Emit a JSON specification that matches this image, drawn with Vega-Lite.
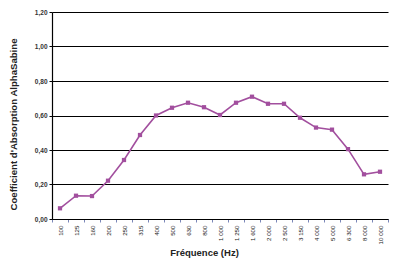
{
  "$schema": "https://vega.github.io/schema/vega-lite/v6.json",
  "autosize": {"type": "none"},
  "padding": {"left": 52, "top": 12, "right": 7, "bottom": 40},
  "width": 336,
  "height": 207,
  "background": "white",
  "config": {"view": {"stroke": null}, "font": "Liberation Sans"},
  "data": {"values": [
    {"f": "100", "a": 0.062},
    {"f": "125", "a": 0.135},
    {"f": "160", "a": 0.133},
    {"f": "200", "a": 0.222},
    {"f": "250", "a": 0.342},
    {"f": "315", "a": 0.487},
    {"f": "400", "a": 0.600},
    {"f": "500", "a": 0.645},
    {"f": "630", "a": 0.674},
    {"f": "800", "a": 0.648},
    {"f": "1 000", "a": 0.603},
    {"f": "1 250", "a": 0.674},
    {"f": "1 600", "a": 0.709},
    {"f": "2 000", "a": 0.668},
    {"f": "2 500", "a": 0.668},
    {"f": "3 150", "a": 0.587},
    {"f": "4 000", "a": 0.530},
    {"f": "5 000", "a": 0.518},
    {"f": "6 300", "a": 0.405},
    {"f": "8 000", "a": 0.259},
    {"f": "10 000", "a": 0.274}
  ]},
  "encoding": {
    "x": {
      "field": "f", "type": "ordinal", "sort": null,
      "scale": {"type": "band", "paddingInner": 0, "paddingOuter": 0},
      "axis": {
        "title": "Fréquence (Hz)", "titleFontSize": 9.5, "titleFontWeight": "bold", "titleColor": "#222",
        "titleX": 152, "titleY": 36, "titleAlign": "center", "titleBaseline": "alphabetic",
        "labelAngle": -90, "labelFontSize": 6.2, "labelColor": "#222", "labelPadding": 3,
        "labelAlign": "right", "labelBaseline": "middle",
        "domainColor": "#000", "domainWidth": 1.2,
        "tickColor": "#7a86b8", "tickSize": 3, "tickBand": "extent", "grid": false
      }
    },
    "y": {
      "field": "a", "type": "quantitative",
      "scale": {"domain": [0, 1.2], "nice": false, "zero": true},
      "axis": {
        "title": "Coefficient d'Absorption AlphaSabine", "titleFontSize": 9.6, "titleFontWeight": "bold", "titleColor": "#222",
        "titleX": -34, "titleY": 112, "titleAlign": "center", "titlePadding": 0,
        "values": [0, 0.2, 0.4, 0.6, 0.8, 1.0, 1.2],
        "labelExpr": "replace(format(datum.value, '.2f'), '.', ',')",
        "labelFontSize": 6.5, "labelFontWeight": "bold", "labelColor": "#333", "labelPadding": 2,
        "grid": true, "gridColor": "#000", "gridWidth": 1.1, "gridOpacity": 1,
        "domainColor": "#000", "domainWidth": 1.2,
        "tickColor": "#000", "tickSize": 3
      }
    }
  },
  "layer": [
    {"mark": {"type": "line", "color": "#a24f9e", "strokeWidth": 1.6}},
    {"mark": {"type": "point", "shape": "square", "filled": true, "color": "#a24f9e", "size": 18, "opacity": 1}}
  ]
}
